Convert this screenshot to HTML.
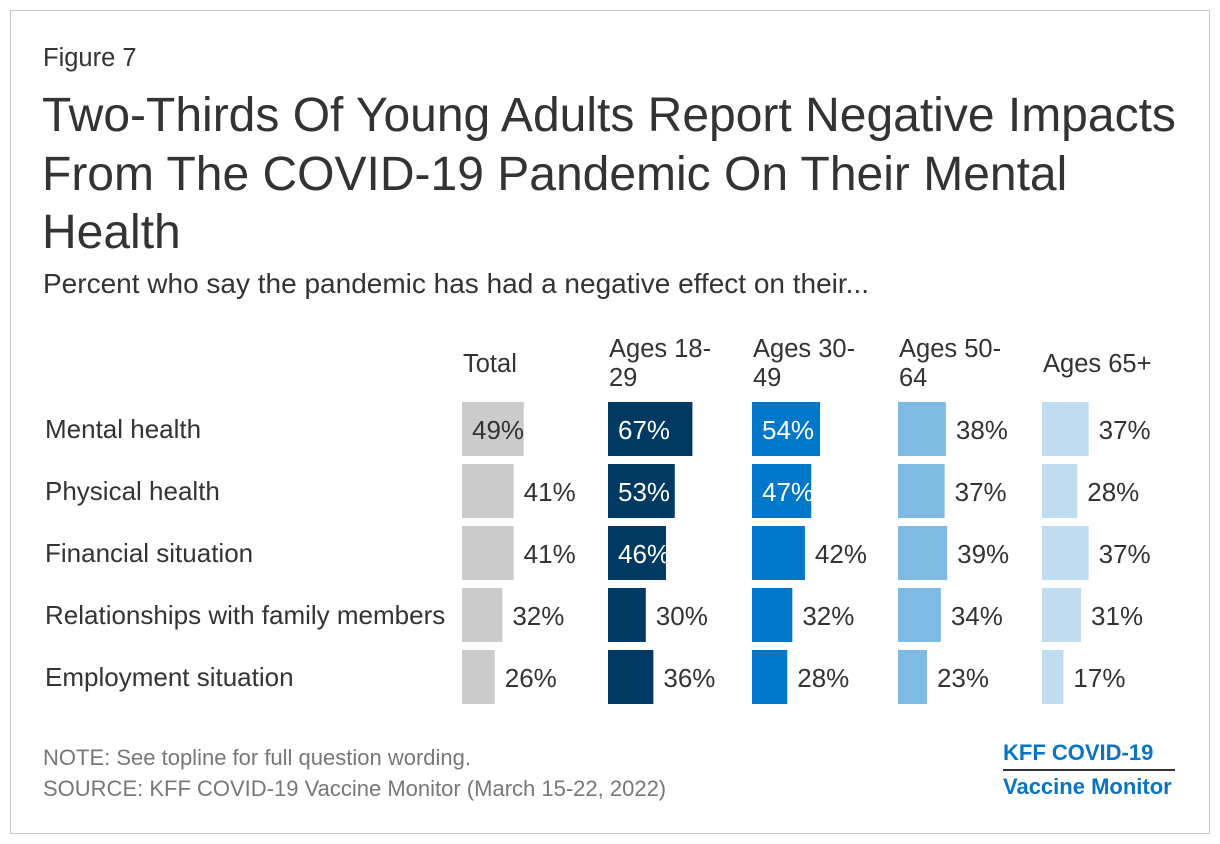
<!DOCTYPE html>
<html><head><meta charset="utf-8"><style>
body{margin:0;background:#fff;font-family:"Liberation Sans",sans-serif;}
#frame{position:absolute;left:10px;top:10px;width:1198px;height:822px;border:1px solid #c8c8c8;background:#fff;}
.t{position:absolute;color:#333;white-space:nowrap;}
</style></head><body>
<div id="frame"></div>
<div class="t" style="left:43px;top:44px;font-size:25.5px;">Figure 7</div>
<div class="t" style="left:42px;top:87px;font-size:48px;line-height:58.5px;white-space:normal;width:1160px;">Two-Thirds Of Young Adults Report Negative Impacts From The COVID-19 Pandemic On Their Mental Health</div>
<div class="t" style="left:43px;top:268px;font-size:28px;">Percent who say the pandemic has had a negative effect on their...</div>
<svg id="chart" width="1220" height="844" style="position:absolute;left:0;top:0"></svg>
<div class="t" style="left:43px;top:745px;font-size:22px;color:#777;">NOTE: See topline for full question wording.</div>
<div class="t" style="left:43px;top:776px;font-size:22px;color:#777;">SOURCE: KFF COVID-19 Vaccine Monitor (March 15-22, 2022)</div>
<div class="t" style="left:1003px;top:740px;font-size:22px;font-weight:bold;color:#0a74c4;">KFF COVID-19</div>
<div style="position:absolute;left:1003px;top:769px;width:172px;height:2px;background:#333;"></div>
<div class="t" style="left:1003px;top:774px;font-size:22px;font-weight:bold;color:#0a74c4;">Vaccine Monitor</div>
<script>
const categories=["Mental health","Physical health","Financial situation","Relationships with family members","Employment situation"];
const groups=["Total","Ages 18-\n29","Ages 30-\n49","Ages 50-\n64","Ages 65+"];
const total=[49,41,41,32,26];
const ages1829=[67,53,46,30,36];
const ages3049=[54,47,42,32,28];
const ages5064=[38,37,39,34,23];
const ages65=[37,28,37,31,17];
const series=[total,ages1829,ages3049,ages5064,ages65];
const colors=["#cbcbcb","#003a63","#0077c8","#7fbae3","#c0dcf1"];
const textIn=["#333","#fff","#fff","#333","#333"];
const colX=[462,608,752,898,1042];
const xs=v=>v*1.26;
const yRow=i=>402+i*62;
const NS="http://www.w3.org/2000/svg";
const svg=document.getElementById('chart');
function mk(tag,attrs){const e=document.createElementNS(NS,tag);for(const k in attrs)e.setAttribute(k,attrs[k]);svg.appendChild(e);return e;}
categories.forEach((c,i)=>{
  const t=mk('text',{x:45,y:yRow(i)+36,'font-size':26,fill:'#333','font-family':'Liberation Sans, sans-serif'});
  t.textContent=c;
  
  
});
groups.forEach((g,j)=>{
  const lines=g.split("\n");
  lines.forEach((l,k)=>{
    const y=lines.length===1?372:357+k*29;
    const t=mk('text',{x:colX[j]+1,y:y,'font-size':25.5,fill:'#333','font-family':'Liberation Sans, sans-serif'});
    t.textContent=l;
    
    
  });
});
series.forEach((s,j)=>{
  s.forEach((v,i)=>{
    const w=xs(v);
    const r=mk('rect',{x:colX[j],y:yRow(i),width:w,height:54,fill:colors[j]});
    
    
    const inside=v>=45;
    const t=mk('text',{x:inside?colX[j]+10:colX[j]+w+10,y:yRow(i)+37,'font-size':26,fill:inside?textIn[j]:'#333','font-family':'Liberation Sans, sans-serif'});
    t.textContent=v+"%";
    
    
  });
});
</script>
</body></html>
